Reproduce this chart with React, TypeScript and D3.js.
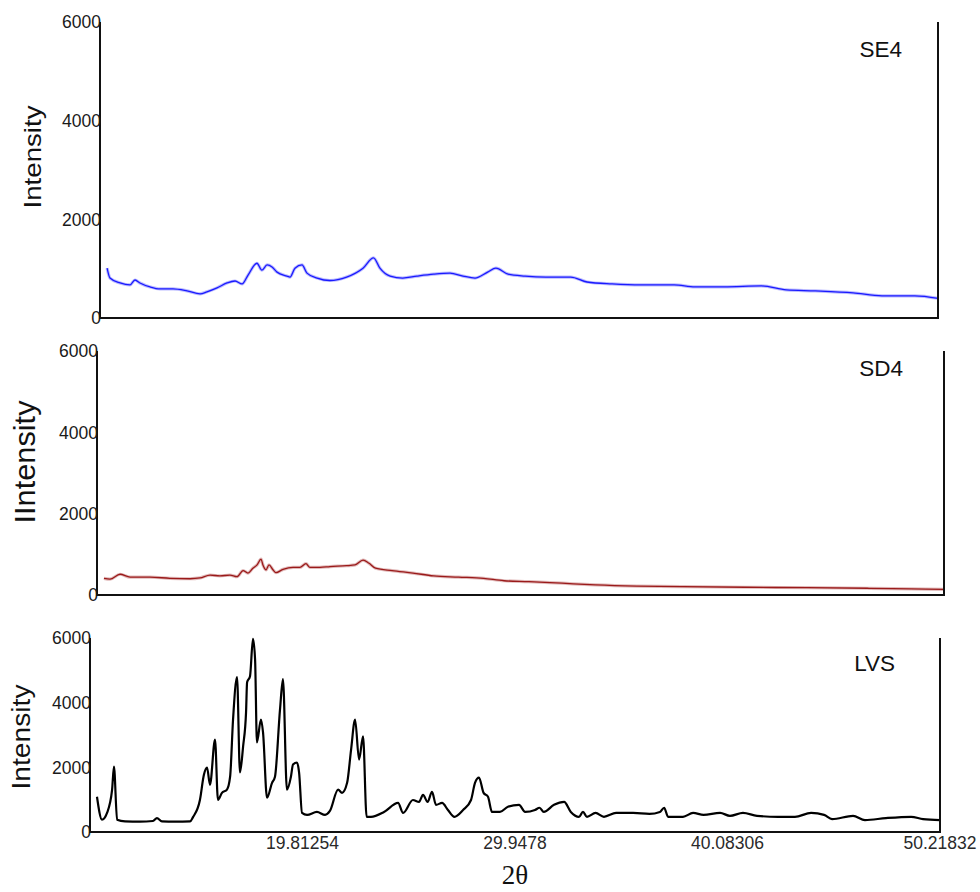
import React from "react";
import * as d3 from "d3";

// ---------- DATA ----------
const SE4_2THETA = [10.02, 10.16, 10.65, 11.13, 11.37, 11.61, 12.1, 12.58, 13.21, 13.89, 14.52, 14.85, 15.34, 15.82, 16.21, 16.55, 16.84, 17.27, 17.51, 17.76, 18.0, 18.24, 18.72, 18.87, 19.11, 19.45, 19.69, 20.18, 20.8, 21.61, 22.4, 22.91, 23.22, 23.71, 24.32, 25.01, 25.82, 26.61, 27.24, 27.82, 28.43, 28.83, 29.42, 30.24, 31.25, 32.45, 33.24, 34.45, 35.85, 37.45, 38.46, 39.86, 41.68, 42.88, 44.29, 46.11, 47.51, 49.1, 50.22];
const SE4_INTENSITY = [1010, 810, 710, 670, 770, 710, 630, 590, 590, 550, 490, 530, 610, 710, 750, 690, 870, 1110, 970, 1075, 1035, 930, 850, 830, 1010, 1075, 910, 810, 760, 830, 1010, 1220, 1010, 850, 810, 850, 890, 910, 850, 810, 930, 1010, 890, 850, 830, 830, 730, 690, 670, 670, 630, 630, 650, 570, 550, 510, 450, 450, 400];

const SD4_2THETA = [10.01, 10.3, 10.78, 11.26, 12.21, 13.17, 14.13, 14.61, 15.09, 15.56, 16.04, 16.38, 16.67, 16.9, 17.14, 17.34, 17.53, 17.62, 17.77, 17.91, 18.1, 18.24, 18.58, 19.06, 19.39, 19.68, 19.87, 20.35, 20.83, 21.62, 22.03, 22.41, 22.7, 23.01, 23.8, 24.8, 25.79, 26.98, 28.18, 29.16, 30.35, 31.93, 33.54, 35.52, 37.71, 40.69, 43.66, 46.63, 48.64, 50.22];
const SD4_INTENSITY = [410, 390, 510, 440, 440, 410, 400, 420, 490, 470, 490, 450, 600, 540, 660, 740, 880, 740, 620, 740, 620, 550, 630, 680, 680, 770, 680, 680, 700, 720, 740, 860, 780, 660, 600, 540, 470, 440, 410, 350, 330, 290, 250, 220, 205, 190, 180, 165, 150, 140];

const LVS_2THETA = [10.01, 10.25, 10.49, 10.73, 10.82, 10.97, 11.35, 12.06, 12.68, 12.87, 13.11, 13.73, 14.45, 14.59, 14.92, 15.11, 15.26, 15.4, 15.64, 15.78, 15.97, 16.21, 16.36, 16.5, 16.69, 16.83, 16.98, 17.12, 17.17, 17.31, 17.45, 17.55, 17.64, 17.83, 17.93, 18.12, 18.36, 18.5, 18.74, 18.88, 19.07, 19.26, 19.36, 19.55, 19.65, 19.79, 20.03, 20.5, 20.89, 21.12, 21.51, 21.7, 21.94, 22.13, 22.32, 22.51, 22.7, 22.87, 23.08, 23.7, 24.37, 24.61, 25.08, 25.37, 25.56, 25.78, 25.99, 26.18, 26.47, 26.75, 27.06, 27.47, 27.85, 28.04, 28.23, 28.45, 28.66, 28.85, 29.23, 29.61, 30.14, 30.43, 30.9, 31.12, 31.32, 31.81, 32.29, 32.61, 33.0, 33.19, 33.38, 33.79, 34.19, 34.77, 35.58, 36.36, 36.86, 37.06, 37.25, 37.96, 38.44, 38.94, 39.73, 40.2, 40.82, 41.49, 42.49, 43.3, 44.07, 44.69, 45.07, 46.07, 46.64, 47.64, 48.84, 49.41, 50.22];
const LVS_INTENSITY = [1090, 380, 590, 1300, 2020, 380, 330, 320, 340, 430, 330, 320, 330, 460, 990, 1770, 1990, 1460, 2860, 990, 1210, 1310, 1710, 3480, 4790, 1840, 2650, 3700, 4630, 4820, 5970, 5350, 2770, 3480, 3080, 1060, 1520, 1710, 3790, 4730, 1310, 1710, 2090, 2150, 1840, 590, 530, 620, 530, 650, 1310, 1210, 1520, 2550, 3480, 2240, 2960, 470, 470, 620, 900, 590, 990, 930, 1150, 930, 1240, 840, 900, 680, 470, 680, 990, 1520, 1680, 1210, 1090, 620, 620, 780, 840, 620, 680, 750, 620, 840, 930, 620, 470, 620, 470, 590, 470, 590, 590, 560, 620, 750, 470, 470, 590, 530, 590, 500, 590, 500, 470, 470, 590, 530, 400, 500, 370, 430, 470, 400, 370];

const SAMPLE_NAMES = ["SE4", "SD4", "LVS"];
const Y_LABELS = ["Intensity", "IIntensity", "Intensity"];
const Y_TICKS = [0, 2000, 4000, 6000];
const X_TICKS = [19.81254, 29.9478, 40.08306, 50.21832];
const X_TICK_LABELS = ["19.81254", "29.9478", "40.08306", "50.21832"];
const X_DOMAIN = [9.67728, 50.21832];
const X_TITLE = "2θ";

// ---------- LAYOUT ----------
const panels = [
  { x: SE4_2THETA, y: SE4_INTENSITY, color: "#1a1aff", width: 1.3, halo: true,
    left: 100, right: 938, top: 22, bottom: 318,
    yl: { x: 41, y: 157, size: 24, len: 103 }, title: { x: 902, y: 57 } },
  { x: SD4_2THETA, y: SD4_INTENSITY, color: "#9a1a1a", width: 1.3, halo: true,
    left: 97, right: 944, top: 351, bottom: 595,
    yl: { x: 35, y: 462, size: 29, len: 123 }, title: { x: 903, y: 376 } },
  { x: LVS_2THETA, y: LVS_INTENSITY, color: "#000", width: 2.2, halo: false,
    left: 90, right: 940, top: 638, bottom: 832,
    yl: { x: 30, y: 737, size: 26, len: 105 }, title: { x: 895, y: 671 } },
];

const FONT = "'Liberation Sans', Arial, Helvetica, sans-serif";

export default function App() {
  return (
    <svg width={980} height={892} style={{ position: "absolute", left: 0, top: 0, background: "#fff" }}
      fontFamily={FONT}>
      <rect x={0} y={0} width={980} height={892} fill="#fff" />
      {panels.map((p, i) => {
        const xs = d3.scaleLinear().domain(X_DOMAIN).range([p.left, p.right]);
        const ys = d3.scaleLinear().domain([0, 6000]).range([p.bottom, p.top]);
        const pts = p.x.map((v, k) => [v, p.y[k]] as [number, number]);
        const line = d3.line<[number, number]>().x((d) => xs(d[0])).y((d) => ys(d[1])).curve(d3.curveMonotoneX);
        const dPath = line(pts) || "";
        return (
          <g key={i}>
            {p.halo && <path d={dPath} fill="none" stroke={p.color} strokeOpacity={0.3} strokeWidth={3.2} strokeLinejoin="round" />}
            <path d={dPath} fill="none" stroke={p.color} strokeWidth={p.width} strokeLinejoin="round" />
            {/* axes */}
            <line x1={p.left} x2={p.left} y1={ys(6000)} y2={p.bottom + 1} stroke="#111" strokeWidth={2} />
            <line x1={p.right} x2={p.right} y1={ys(6000)} y2={p.bottom + 1} stroke="#111" strokeWidth={2} />
            <line x1={p.left} x2={p.right + 1} y1={p.bottom} y2={p.bottom} stroke="#111" strokeWidth={2} />
            {Y_TICKS.map((t) => (
              <text key={t} x={p.left + 1} y={ys(t)} dy="0.36em" textAnchor="end" fontSize={17.5} fill="#1a1a1a">
                {t}
              </text>
            ))}
            <text transform={`translate(${p.yl.x},${p.yl.y}) rotate(-90)`} textAnchor="middle" fontSize={p.yl.size}
              textLength={p.yl.len} lengthAdjust="spacingAndGlyphs" fill="#111">
              {Y_LABELS[i]}
            </text>
            <text x={p.title.x} y={p.title.y} textAnchor="end" fontSize={22.5} fill="#111">
              {SAMPLE_NAMES[i]}
            </text>
            {i === 2 &&
              X_TICKS.map((t, k) => (
                <text key={t} x={xs(t)} y={849} textAnchor="middle" fontSize={17.5} fill="#2a2a2a">
                  {X_TICK_LABELS[k]}
                </text>
              ))}
            {i === 2 && (
              <text x={xs(29.9478)} y={884} textAnchor="middle" fontSize={27}
                fontFamily="'Liberation Serif', 'Times New Roman', serif" fill="#111">
                {X_TITLE}
              </text>
            )}
          </g>
        );
      })}
    </svg>
  );
}
